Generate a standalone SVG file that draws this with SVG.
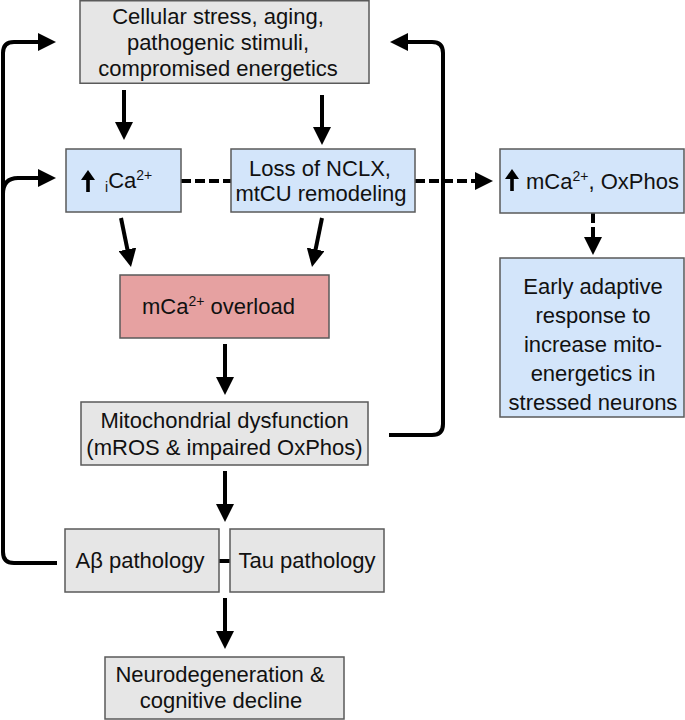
<svg xmlns="http://www.w3.org/2000/svg" width="685" height="720" viewBox="0 0 685 720">
<defs>
<marker id="ah" markerUnits="userSpaceOnUse" markerWidth="18" markerHeight="18" refX="8" refY="9" orient="auto">
<path d="M0,0 L18,9 L0,18 z" fill="#000"/>
</marker>
<g id="up">
<path d="M-7,10 L0,0 L7,10 z" fill="#000"/>
<rect x="-1.8" y="8" width="3.6" height="14" fill="#000"/>
</g>
<style>
.box{stroke:#5a5a5a;stroke-width:1.5}
.gray{fill:#e6e6e6}
.blue{fill:#d3e5fa}
.red{fill:#e6a1a1}
text{font-family:"Liberation Sans",Arial,sans-serif;font-size:22px;fill:#111}
.c{text-anchor:middle}
.ln{fill:none;stroke:#000;stroke-width:4}
.dash{fill:none;stroke:#000;stroke-width:4;stroke-dasharray:10 4}
</style>
</defs>
<rect width="685" height="720" fill="#fff"/>

<g id="connectors">
<line class="ln" x1="124" y1="90" x2="124" y2="130" marker-end="url(#ah)"/>
<line class="ln" x1="322" y1="95" x2="322" y2="135" marker-end="url(#ah)"/>
<line class="ln" x1="121" y1="218" x2="129" y2="257.2" marker-end="url(#ah)"/>
<line class="ln" x1="322" y1="218" x2="314" y2="257.2" marker-end="url(#ah)"/>
<line class="ln" x1="225" y1="344" x2="225" y2="385" marker-end="url(#ah)"/>
<line class="ln" x1="225" y1="471" x2="225" y2="512" marker-end="url(#ah)"/>
<line class="ln" x1="225" y1="598" x2="225" y2="639" marker-end="url(#ah)"/>
<line class="ln" x1="219" y1="561" x2="230" y2="561"/>
<path class="ln" d="M57,563 H14 Q3,563 3,552 V53 Q3,42 14,42 H46" marker-end="url(#ah)"/>
<path class="ln" d="M3,194 Q3,178 18,178 H46" marker-end="url(#ah)"/>
<path class="ln" d="M389,435 H432 Q443,435 443,424 V53 Q443,42 432,42 H400" marker-end="url(#ah)"/>
<line class="dash" x1="181" y1="181" x2="231" y2="181"/>
<line class="dash" x1="415" y1="181" x2="483" y2="181" marker-end="url(#ah)"/>
<line class="dash" x1="593" y1="213" x2="593" y2="245" marker-end="url(#ah)"/>
</g>

<g id="stress">
<rect class="box gray" x="80" y="0.75" width="289" height="82.5"/>
<text class="c" x="218" y="24">Cellular stress, aging,</text>
<text class="c" x="218" y="50">pathogenic stimuli,</text>
<text class="c" x="218" y="76">compromised energetics</text>
</g>

<g id="ica">
<rect class="box blue" x="66" y="149" width="115" height="63"/>
<use href="#up" x="88" y="170"/>
<text x="105" y="188"><tspan font-size="14" dy="4">i</tspan><tspan dy="-4">Ca</tspan><tspan font-size="14" dy="-8">2+</tspan></text>
</g>

<g id="nclx">
<rect class="box blue" x="231" y="149" width="184" height="63"/>
<text class="c" x="320" y="176">Loss of NCLX,</text>
<text class="c" x="321" y="201">mtCU remodeling</text>
</g>

<g id="mca-oxphos">
<rect class="box blue" x="500" y="149" width="184" height="64"/>
<use href="#up" x="512" y="169"/>
<text x="526" y="189">mCa<tspan font-size="14" dy="-8">2+</tspan><tspan dy="8">, OxPhos</tspan></text>
</g>

<g id="adaptive">
<rect class="box blue" x="500" y="258" width="184" height="159"/>
<text class="c" x="593" y="294">Early adaptive</text>
<text class="c" x="593" y="323">response to</text>
<text class="c" x="593" y="352">increase mito-</text>
<text class="c" x="593" y="381">energetics in</text>
<text class="c" x="593" y="410">stressed neurons</text>
</g>

<g id="overload">
<rect class="box red" x="120" y="275" width="209" height="63"/>
<text x="142" y="314">mCa<tspan font-size="14" dy="-8">2+</tspan><tspan dy="8"> overload</tspan></text>
</g>

<g id="mito">
<rect class="box gray" x="81" y="402" width="287" height="63"/>
<text class="c" x="224.5" y="428">Mitochondrial dysfunction</text>
<text class="c" x="224.5" y="455">(mROS &amp; impaired OxPhos)</text>
</g>

<g id="abeta">
<rect class="box gray" x="65" y="529" width="154" height="63"/>
<text class="c" x="140" y="568">Aβ pathology</text>
</g>

<g id="tau">
<rect class="box gray" x="230" y="529" width="154" height="63"/>
<text class="c" x="307" y="568">Tau pathology</text>
</g>

<g id="neuro">
<rect class="box gray" x="105" y="657" width="239" height="62"/>
<text class="c" x="220" y="682">Neurodegeneration &amp;</text>
<text class="c" x="221" y="708">cognitive decline</text>
</g>
</svg>
